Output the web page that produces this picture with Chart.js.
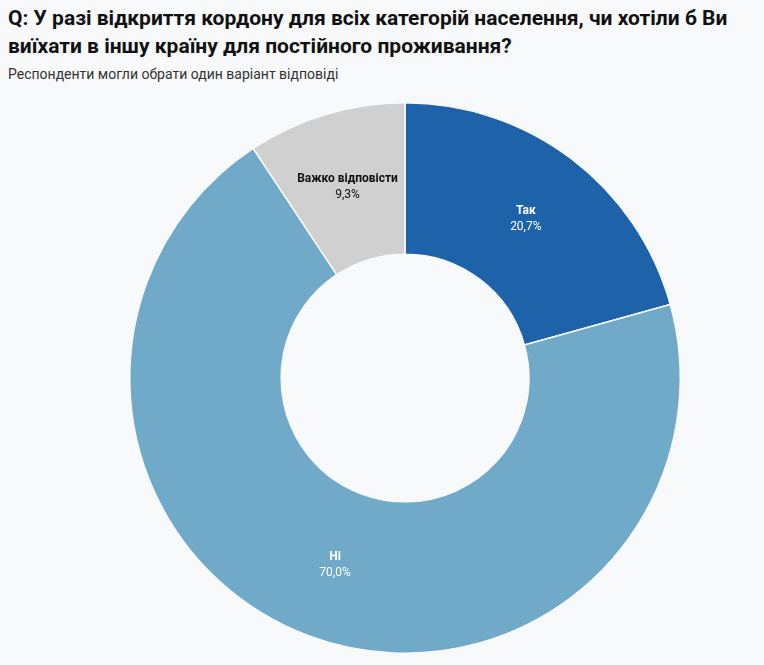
<!DOCTYPE html>
<html>
<head>
<meta charset="utf-8">
<script src="https://cdn.jsdelivr.net/npm/chart.js@4.4.0/dist/chart.umd.min.js"></script>
<style>
  html, body { margin: 0; padding: 0; background: #f8f9fa; width: 764px; height: 665px; overflow: hidden; }
  #wrap { position: relative; width: 764px; height: 665px; }
  h1 { position: absolute; left: 8px; top: 4px; margin: 0; font-family: Roboto, sans-serif; font-weight: 700; font-size: 21px; line-height: 28px; color: #111; width: 756px; }
  .sub { position: absolute; left: 8px; top: 66px; margin: 0; font-family: Roboto, sans-serif; font-size: 14px; color: #333; }
  canvas { position: absolute; left: 0; top: 0; }
</style>
</head>
<body>
<div id="wrap">
  <h1>Q: У разі відкриття кордону для всіх категорій населення, чи хотіли б Ви виїхати в іншу країну для постійного проживання?</h1>
  <div class="sub">Респонденти могли обрати один варіант відповіді</div>
  <canvas id="c" width="764" height="665"></canvas>
</div>
<script>
const categories = ["Так", "Ні", "Важко відповісти"];
const values = [20.7, 70.0, 9.3];
const colors = ["#1e62aa", "#71aac9", "#d0d0d0"];
const labelColors = ["#ffffff", "#ffffff", "#111111"];

const labelPlugin = {
  id: 'sliceLabels',
  afterDatasetsDraw(chart) {
    const ctx = chart.ctx;
    const meta = chart.getDatasetMeta(0);
    meta.data.forEach((arc, i) => {
      const p = arc.tooltipPosition();
      ctx.save();
      ctx.textAlign = 'center';
      ctx.textBaseline = 'middle';
      ctx.fillStyle = labelColors[i];
      ctx.font = 'bold 12px Roboto, sans-serif';
      ctx.fillText(categories[i], p.x, p.y - 8);
      ctx.font = '12px Roboto, sans-serif';
      ctx.fillText(values[i].toFixed(1).replace('.', ',') + '%', p.x, p.y + 8);
      ctx.restore();
    });
  }
};

new Chart(document.getElementById('c'), {
  type: 'doughnut',
  data: {
    labels: categories,
    datasets: [{
      data: values,
      backgroundColor: colors,
      borderColor: '#f8f9fa',
      borderWidth: 1.5
    }]
  },
  options: {
    responsive: false,
    animation: false,
    cutout: '45%',
    layout: { padding: { top: 102, bottom: 11, left: 46, right: 0 } },
    plugins: {
      legend: { display: false },
      tooltip: { enabled: false }
    }
  },
  plugins: [labelPlugin]
});
</script>
</body>
</html>
